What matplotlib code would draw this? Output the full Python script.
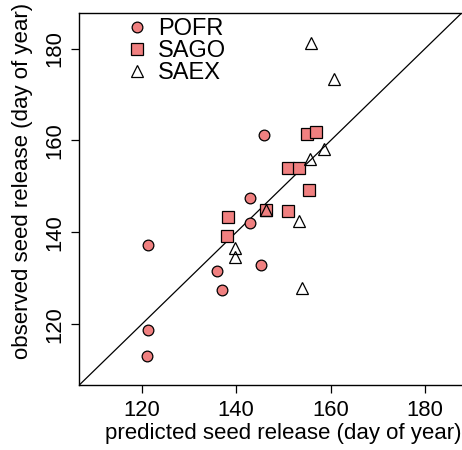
import matplotlib
matplotlib.use("Agg")
import matplotlib.pyplot as plt

plt.rcParams['font.family'] = ['Liberation Sans', 'DejaVu Sans']

# data (predicted, observed day of year)
pofr_pred = [121.4, 121.4, 121.1, 136.0, 137.0, 145.9, 142.9, 143.0, 145.2]
pofr_obs = [137.3, 118.8, 113.2, 131.6, 127.4, 161.2, 147.4, 142.0, 132.9]

sago_pred = [155.1, 157.0, 151.0, 153.4, 155.4, 146.4, 150.9, 138.2, 138.0]
sago_obs = [161.5, 161.9, 154.1, 154.1, 149.2, 144.9, 144.6, 143.4, 139.2]

saex_pred = [155.9, 160.8, 158.6, 155.6, 146.4, 153.4, 139.7, 139.7, 154.0]
saex_obs = [181.3, 173.3, 158.2, 155.9, 144.9, 142.4, 136.5, 134.6, 127.8]

species = ["POFR", "SAGO", "SAEX"]
ticks = [120, 140, 160, 180]
lims = [106.8, 187.8]

fig = plt.figure(figsize=(4.62, 4.5), dpi=100)
ax = fig.add_axes([0.1716, 0.1444, 0.8284, 0.8274])

ax.plot(lims, lims, color='black', lw=0.9, zorder=1)
ax.plot(pofr_pred, pofr_obs, 'o', ms=7.7, mfc='#F08080', mec='black', mew=0.9, ls='none', label=species[0], zorder=3)
ax.plot(sago_pred, sago_obs, 's', ms=8.0, mfc='#F08080', mec='black', mew=0.9, ls='none', label=species[1], zorder=3)
ax.plot(saex_pred, saex_obs, '^', ms=8.5, mfc='none', mec='black', mew=0.9, ls='none', label=species[2], zorder=4)

ax.set_xlim(lims)
ax.set_ylim(lims)
ax.set_xticks(ticks)
ax.set_yticks(ticks)
ax.set_xticklabels([str(t) for t in ticks], fontsize=15.8)
ax.set_yticklabels([str(t) for t in ticks], fontsize=15.8, rotation=90, va='center')
ax.tick_params(direction='out', length=6, width=0.9, color='black')
ax.tick_params(axis='x', pad=5)
ax.tick_params(axis='y', pad=4)
for s in ['left', 'bottom', 'top']:
    ax.spines[s].set_linewidth(1.0)
ax.spines['right'].set_visible(False)

ax.set_xlabel("predicted seed release (day of year)", fontsize=16)
ax.set_ylabel("observed seed release (day of year)", fontsize=16)
ax.xaxis.set_label_coords(0.532, -0.103)
ax.yaxis.set_label_coords(-0.121, 0.548)

leg = ax.legend(loc='upper left', bbox_to_anchor=(0.095, 1.01), frameon=False,
                fontsize=17, handletextpad=0.4, labelspacing=0.0,
                borderaxespad=0, handlelength=1.0)

fig.savefig("out.png", dpi=100)
